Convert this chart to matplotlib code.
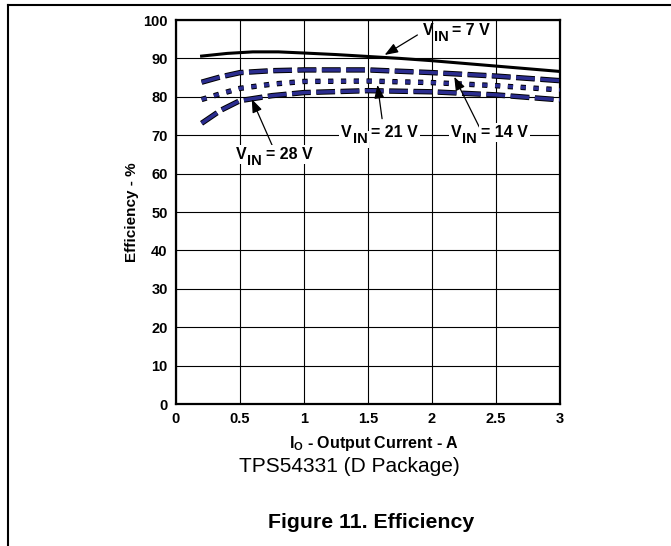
import matplotlib
matplotlib.use("Agg")
import matplotlib.pyplot as plt
import matplotlib.patheffects as pe
from matplotlib.lines import Line2D

plt.rcParams['font.family'] = ['Liberation Sans', 'DejaVu Sans']
plt.rcParams['mathtext.fontset'] = 'custom'
plt.rcParams['mathtext.rm'] = 'Liberation Sans:bold'
plt.rcParams['mathtext.it'] = 'Liberation Sans:bold'
plt.rcParams['mathtext.bf'] = 'Liberation Sans:bold'
plt.rcParams['mathtext.default'] = 'bf'

# -----------------------------
# Data
# -----------------------------
io_7v = [0.2, 0.4, 0.6, 0.8, 1.0, 1.25, 1.5, 1.75, 2.0, 2.5, 3.0]
eff_7v = [90.6, 91.3, 91.7, 91.7, 91.4, 91.0, 90.5, 90.0, 89.4, 88.0, 86.6]

io_vin = [0.2, 0.35, 0.5, 0.75, 1.0, 1.5, 2.0, 2.5, 3.0]
eff_14v = [83.8, 85.2, 86.3, 86.8, 87.0, 87.0, 86.3, 85.4, 84.2]
eff_21v = [79.3, 80.8, 82.2, 83.3, 84.0, 84.1, 83.7, 82.9, 81.8]
eff_28v = [73.1, 76.5, 79.0, 80.3, 81.1, 81.6, 81.3, 80.5, 79.2]

x_ticks = [0, 0.5, 1, 1.5, 2, 2.5, 3]
x_tick_labels = ['0', '0.5', '1', '1.5', '2', '2.5', '3']
y_ticks = list(range(0, 101, 10))

# label text, text anchor (left, baseline), arrow tail, arrow head
labels = ['= 7 V', '= 21 V', '= 14 V', '= 28 V']
label_pos = [(1.925, 96.1), (1.29, 69.45), (2.148, 69.45), (0.468, 63.7)]
arrow_tail = [(1.886, 96.1), (1.61, 74.3), (2.37, 72.1), (0.756, 67.0)]
arrow_head = [(1.63, 90.9), (1.574, 83.1), (2.174, 85.2), (0.592, 79.4)]

fig = plt.figure(figsize=(6.71, 5.46), dpi=100)
ax = fig.add_axes([176 / 671, 1 - 404 / 546, 384 / 671, 384 / 546])

navy = '#2b2d8f'
outline = [pe.Stroke(linewidth=3.9, foreground='black'), pe.Normal()]

ax.plot(io_7v, eff_7v, color='black', linewidth=2.2, zorder=3)
ax.plot(io_vin, eff_14v, color=navy, linewidth=2.5, linestyle=(0, (5.4, 1.6)),
        dash_capstyle='butt', path_effects=outline, zorder=3)
ax.plot(io_vin, eff_21v, color=navy, linewidth=2.5, linestyle=(0, (1.5, 2.2)),
        dash_capstyle='butt', path_effects=outline, zorder=3)
ax.plot(io_vin, eff_28v, color=navy, linewidth=2.5, linestyle=(0, (5.4, 1.6)),
        dash_capstyle='butt', path_effects=outline, zorder=3)

ax.set_xlim(0, 3)
ax.set_ylim(0, 100)
ax.set_xticks(x_ticks)
ax.set_xticklabels(x_tick_labels)
ax.set_yticks(y_ticks)
ax.tick_params(length=0, labelsize=10.5, pad=6)
for lab in ax.get_xticklabels() + ax.get_yticklabels():
    lab.set_fontweight('bold')
ax.grid(True, color='black', linewidth=0.8)
ax.set_axisbelow(True)
for s in ax.spines.values():
    s.set_linewidth(1.6)

ax.set_xlabel(r'$I_O$ - Output Current - A', fontsize=11.5, fontweight='bold')
ax.xaxis.set_label_coords(0.515, -0.078)
ax.set_ylabel('Efficiency - %', fontsize=11, fontweight='bold')
ax.yaxis.set_label_coords(-0.096, 0.5)

# V_IN labels: "V", subscript "IN", then the value
for i, txt in enumerate(labels):
    box = None
    if i > 0:
        box = dict(boxstyle='square,pad=0.12', facecolor='white', edgecolor='none')
    ax.annotate('', xy=arrow_head[i], xytext=arrow_tail[i],
                arrowprops=dict(arrowstyle='-|>,head_length=0.8,head_width=0.3',
                                color='black', linewidth=0.9,
                                shrinkA=0, shrinkB=0), zorder=4)
    t1 = ax.text(label_pos[i][0], label_pos[i][1], 'V', fontsize=11.5,
                 fontweight='bold', ha='left', va='baseline', bbox=box, zorder=5)
    t2 = ax.annotate('IN', xy=(1, 0), xycoords=t1, xytext=(0.6, -4.3),
                     textcoords='offset points', fontsize=10.5, fontweight='bold',
                     ha='left', va='bottom', bbox=box, zorder=6)
    ax.annotate(txt, xy=(1, 0), xycoords=(t2, t1), xytext=(2.8, 0),
                textcoords='offset points', fontsize=11.5, fontweight='bold',
                ha='left', va='bottom', bbox=box, zorder=5)

fig.text(349 / 671, 1 - 466 / 546, 'TPS54331 (D Package)', fontsize=15,
         ha='center', va='center')
fig.text(371.5 / 671, 1 - 522 / 546, 'Figure 11. Efficiency', fontsize=15.3,
         fontweight='bold', ha='center', va='center')

# page frame
fig.add_artist(Line2D([7.5 / 671, 7.5 / 671], [0, 1 - 4.5 / 546],
                      transform=fig.transFigure, color='black', linewidth=1.5))
fig.add_artist(Line2D([7.5 / 671, 1], [1 - 4.5 / 546, 1 - 4.5 / 546],
                      transform=fig.transFigure, color='black', linewidth=1.5))

fig.savefig('out.png', dpi=100)
